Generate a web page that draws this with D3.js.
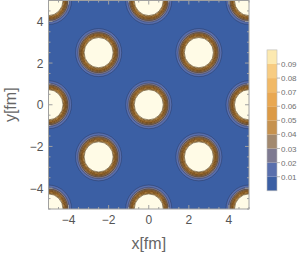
<!DOCTYPE html>
<html>
<head>
<meta charset="utf-8">
<script src="https://cdn.jsdelivr.net/npm/d3@7"></script>
<style>
  body { margin: 0; background: #fff; }
  svg { display: block; font-family: "Liberation Sans", Arial, sans-serif; }
  .tick-label { fill: #555; font-size: 12px; }
  .axis-title { fill: #666; font-size: 16px; }
  .legend-label { fill: #707070; font-size: 8px; }
</style>
</head>
<body>
<svg id="chart" width="300" height="254"></svg>
<script>
// blob centres (fm)
const blobX = [-5, 0, 5, -5, 0, 5, -5, 0, 5, -2.5, 2.5, -2.5, 2.5];
const blobY = [5, 5, 5, 0, 0, 0, -5, -5, -5, 2.5, 2.5, -2.5, -2.5];

// contour levels and the radius (fm) where each level sits
const levels = [0.01, 0.02, 0.03, 0.04, 0.05, 0.06, 0.07, 0.08, 0.09];
const levelRadii = [1.15, 1.04, 0.96, 0.91, 0.865, 0.83, 0.795, 0.76, 0.725];

// band colours, band i = values between levels[i-1] and levels[i]
const bandColors = ["#3b5fa4", "#596fad", "#7e7a91", "#a2896f", "#c6924f",
  "#dc9a45", "#e9a852", "#f1b966", "#f7cc82", "#fce9b0"];
const coreColor = "#fffbe6";

const xTicks = [-4, -2, 0, 2, 4];
const yTicks = [-4, -2, 0, 2, 4];
const legendTicks = [0.01, 0.02, 0.03, 0.04, 0.05, 0.06, 0.07, 0.08, 0.09];

const svg = d3.select("#chart");

const x = d3.scaleLinear().domain([-5, 5]).range([48.5, 249]);
const y = d3.scaleLinear().domain([-5, 5]).range([209, 0.5]);

svg.append("defs").append("clipPath").attr("id", "plot-clip")
  .append("rect")
  .attr("x", x(-5)).attr("y", y(5))
  .attr("width", x(5) - x(-5)).attr("height", y(-5) - y(5));

const plot = svg.append("g").attr("clip-path", "url(#plot-clip)");

plot.append("rect")
  .attr("x", x(-5)).attr("y", y(5))
  .attr("width", x(5) - x(-5)).attr("height", y(-5) - y(5))
  .attr("fill", bandColors[0]);

const blobs = blobX.map((bx, i) => ({ x: bx, y: blobY[i] }));

blobs.forEach((b) => {
  const g = plot.append("g");
  levels.forEach((lv, i) => {
    const r = levelRadii[i];
    g.append("ellipse")
      .attr("cx", x(b.x)).attr("cy", y(b.y))
      .attr("rx", x(r) - x(0)).attr("ry", y(0) - y(r))
      .attr("fill", i === levels.length - 1 ? coreColor : bandColors[i + 1])
      .attr("stroke", i < 2 ? "rgba(30,40,70,0.4)" : "rgba(60,36,10,0.6)")
      .attr("stroke-width", 0.9);
  });
});

// frame
svg.append("rect")
  .attr("x", x(-5)).attr("y", y(5))
  .attr("width", x(5) - x(-5)).attr("height", y(-5) - y(5))
  .attr("fill", "none").attr("stroke", "#a0a0a0").attr("stroke-width", 1);

// ticks on all four sides, pointing inwards
const minor = d3.range(-5, 5.01, 0.5);
const tickG = svg.append("g").attr("stroke", "#a0a0a0").attr("stroke-width", 1);
minor.forEach((v) => {
  const len = Math.abs(v % 2) < 1e-9 ? 4 : 2;
  tickG.append("line").attr("x1", x(v)).attr("x2", x(v)).attr("y1", y(-5)).attr("y2", y(-5) - len);
  tickG.append("line").attr("x1", x(v)).attr("x2", x(v)).attr("y1", y(5)).attr("y2", y(5) + len);
  tickG.append("line").attr("y1", y(v)).attr("y2", y(v)).attr("x1", x(-5)).attr("x2", x(-5) + len);
  tickG.append("line").attr("y1", y(v)).attr("y2", y(v)).attr("x1", x(5)).attr("x2", x(5) - len);
});

const fmt = (d) => (d < 0 ? "\u2212" + Math.abs(d) : String(d));

svg.append("g").selectAll("text").data(xTicks).join("text")
  .attr("class", "tick-label")
  .attr("x", (d) => x(d)).attr("y", 224)
  .attr("text-anchor", "middle")
  .text(fmt);

svg.append("g").selectAll("text").data(yTicks).join("text")
  .attr("class", "tick-label")
  .attr("x", x(-5) - 5).attr("y", (d) => y(d) + 4.5)
  .attr("text-anchor", "end")
  .text(fmt);

svg.append("text").attr("class", "axis-title")
  .attr("x", x(0)).attr("y", 249)
  .attr("text-anchor", "middle")
  .text("x[fm]");

svg.append("text").attr("class", "axis-title")
  .attr("transform", `translate(16, ${y(0)}) rotate(-90)`)
  .attr("text-anchor", "middle")
  .text("y[fm]");

// legend
const ly = d3.scaleLinear().domain([0, 0.1]).range([190.8, 49.9]);
const legend = svg.append("g");
const bandEdges = [0, ...levels, 0.1];
legend.selectAll("rect.band").data(bandColors).join("rect")
  .attr("class", "band")
  .attr("x", 267).attr("width", 10)
  .attr("y", (d, i) => ly(bandEdges[i + 1]))
  .attr("height", (d, i) => ly(bandEdges[i]) - ly(bandEdges[i + 1]))
  .attr("fill", (d) => d);
legend.append("rect")
  .attr("x", 267).attr("y", ly(0.1)).attr("width", 10).attr("height", ly(0) - ly(0.1))
  .attr("fill", "none").attr("stroke", "#bbb").attr("stroke-width", 0.6);
legend.selectAll("line").data(legendTicks).join("line")
  .attr("x1", 277).attr("x2", 280)
  .attr("y1", (d) => ly(d)).attr("y2", (d) => ly(d))
  .attr("stroke", "#999").attr("stroke-width", 0.7);
legend.selectAll("text").data(legendTicks).join("text")
  .attr("class", "legend-label")
  .attr("x", 281).attr("y", (d) => ly(d) + 3)
  .text((d) => d.toFixed(2));
</script>
</body>
</html>
